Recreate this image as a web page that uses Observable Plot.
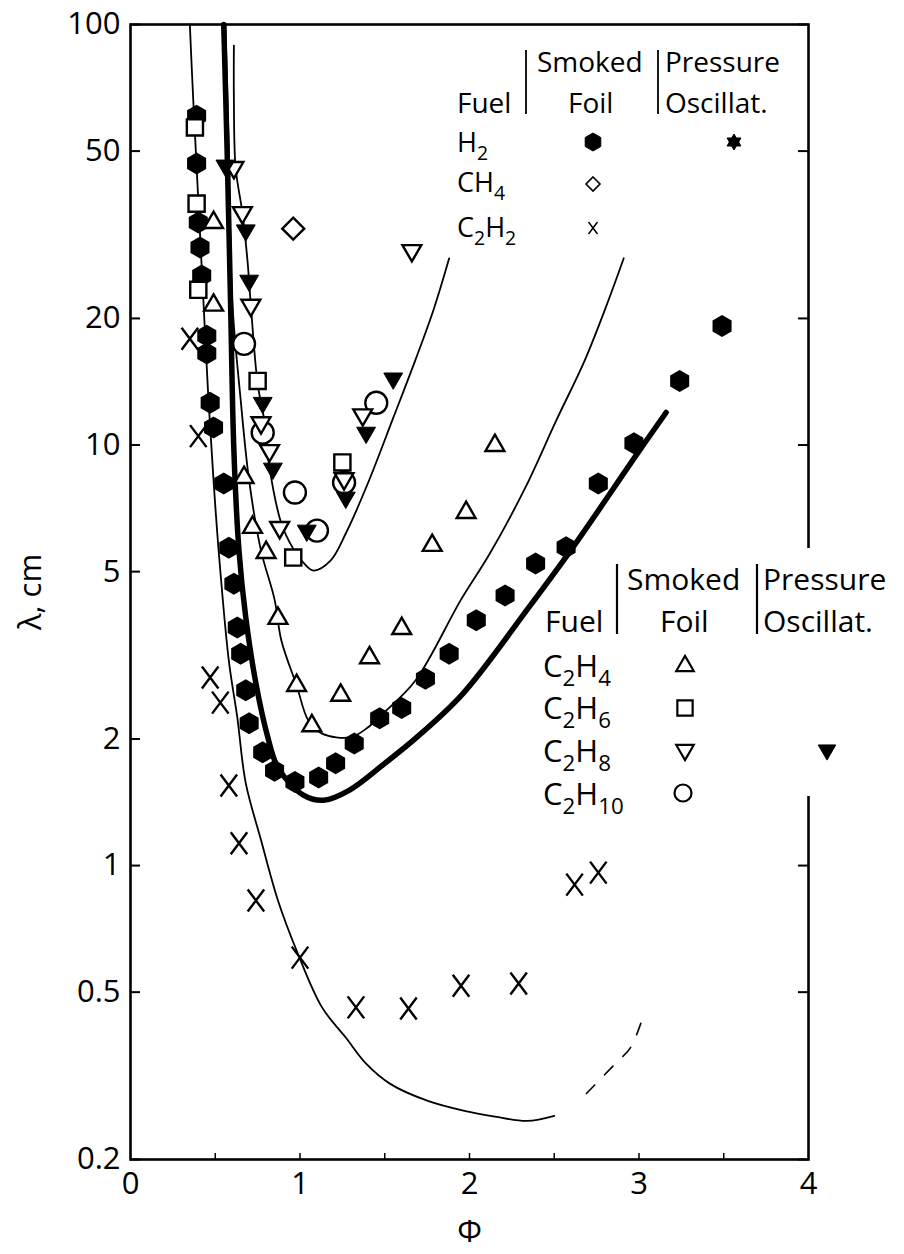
<!DOCTYPE html>
<html><head><meta charset="utf-8">
<script src="https://cdn.jsdelivr.net/npm/d3@7"></script>
<script src="https://cdn.jsdelivr.net/npm/@observablehq/plot@0.6"></script>
<style>
body{margin:0;background:#fff;}
#chart svg{display:block;}
</style></head><body><div id="chart"></div>
<script>
// ---------- data (Φ, λ in cm) ----------
const xTicks = [0, 1, 2, 3, 4];
const xMinorTicks = [0.5, 1, 1.5, 2, 2.5, 3, 3.5];
const yTicks = [100, 50, 20, 10, 5, 2, 1, 0.5, 0.2];

const h2Foil = [[0.39,60.7],[0.39,46.7],[0.40,33.8],[0.41,29.5],[0.42,25.3],[0.45,18.2],[0.45,16.5],[0.47,12.6],[0.49,11.0],[0.55,8.1],[0.58,5.7],[0.61,4.68],[0.63,3.68],[0.65,3.19],[0.68,2.61],[0.70,2.18],[0.78,1.86],[0.85,1.68],[0.97,1.58],[1.11,1.62],[1.21,1.75],[1.32,1.95],[1.47,2.24],[1.60,2.37],[1.74,2.78],[1.88,3.19],[2.04,3.83],[2.21,4.39],[2.39,5.23],[2.57,5.71],[2.76,8.10],[2.97,10.1],[3.24,14.2],[3.49,19.2]];
const ch4Foil = [[0.96,32.7]];
const c2h2Foil = [[0.35,17.9],[0.40,10.5],[0.47,2.80],[0.53,2.44],[0.58,1.55],[0.64,1.13],[0.74,0.826],[1.00,0.604],[1.33,0.460],[1.64,0.457],[1.95,0.518],[2.29,0.524],[2.62,0.901],[2.76,0.962]];
const c2h4Foil = [[0.49,33.8],[0.49,21.5],[0.67,8.37],[0.72,6.37],[0.80,5.55],[0.87,3.87],[0.98,2.68],[1.07,2.15],[1.24,2.54],[1.41,3.12],[1.60,3.66],[1.78,5.77],[1.98,6.91],[2.15,9.97]];
const c2h6Foil = [[0.38,56.9],[0.39,37.5],[0.40,23.4],[0.75,14.2],[1.25,9.09],[0.96,5.40]];
const c2h8Foil = [[0.61,45.7],[0.66,35.7],[0.71,21.5],[0.77,11.3],[0.82,9.70],[0.88,6.37],[1.26,8.32],[1.37,11.8],[1.66,29.0]];
const c2h8Pressure = [[0.56,46.2],[0.68,32.4],[0.70,24.6],[0.78,12.6],[0.84,8.79],[1.04,6.26],[1.27,7.50],[1.39,10.7],[1.55,14.4]];
const c2h10Foil = [[0.67,17.4],[0.78,10.7],[0.97,7.71],[1.10,6.26],[1.26,8.14],[1.45,12.6]];

const h2Fit = [[0.55,100],[0.57,50.2],[0.59,22.1],[0.61,9.70],[0.64,5.61],[0.68,3.89],[0.74,2.71],[0.81,2.02],[0.87,1.71],[1.02,1.47],[1.14,1.43],[1.29,1.51],[1.50,1.75],[1.69,2.02],[1.96,2.56],[2.35,4.11],[2.61,5.71],[2.99,9.54],[3.16,11.95]];
const c2h2Fit = [[0.35,100],[0.37,66.3],[0.40,38.2],[0.43,22.1],[0.46,12.8],[0.49,8.23],[0.52,5.61],[0.58,3.07],[0.63,2.25],[0.68,1.57],[0.77,1.15],[0.87,0.826],[0.98,0.628],[1.13,0.460],[1.27,0.390],[1.39,0.338],[1.53,0.303],[1.75,0.276],[1.97,0.261],[2.15,0.253],[2.34,0.247],[2.50,0.254]];
const c2h2FitExt = [[2.69,0.287],[2.86,0.338],[2.95,0.369],[3.03,0.445]];
const c2h4Fit = [[0.56,100],[0.58,50.2],[0.60,22.1],[0.65,12.8],[0.70,8.23],[0.77,5.61],[0.85,4.29],[0.89,3.43],[0.98,2.68],[1.05,2.21],[1.13,2.06],[1.30,2.02],[1.40,2.13],[1.49,2.30],[1.68,2.75],[1.95,4.29],[2.12,5.52],[2.33,7.93],[2.51,11.4],[2.68,15.9],[2.82,22.1],[2.91,27.8]];
const c2h8Fit = [[0.61,89.1],[0.61,66.3],[0.62,45.7],[0.66,35.7],[0.69,27.5],[0.71,21.5],[0.75,14.0],[0.79,11.4],[0.82,8.84],[0.89,6.51],[0.96,5.67],[1.02,5.25],[1.08,5.03],[1.18,5.31],[1.27,6.16],[1.40,8.10],[1.55,11.6],[1.68,15.9],[1.79,21.1],[1.88,27.8]];

const legendHeaders = ["Fuel", "Smoked", "Foil", "Pressure", "Oscillat."];
const topLegendFuels = ["H2", "CH4", "C2H2"];
const bottomLegendFuels = ["C2H4", "C2H6", "C2H8", "C2H10"];

// ---------- symbols ----------
const S3 = Math.sqrt(3);
const hexagon = {draw(c, s){const r=Math.sqrt(s/Math.PI), hx=r*S3/2, hy=r/2;
  c.moveTo(0,r);c.lineTo(hx,hy);c.lineTo(hx,-hy);c.lineTo(0,-r);c.lineTo(-hx,-hy);c.lineTo(-hx,hy);c.closePath();}};
const triUp = {draw(c, s){const y=-Math.sqrt(s/(S3*3)); c.moveTo(0,2*y);c.lineTo(-S3*y,-y);c.lineTo(S3*y,-y);c.closePath();}};
const triDown = {draw(c, s){const y=-Math.sqrt(s/(S3*3)); c.moveTo(0,-2*y);c.lineTo(-S3*y,y);c.lineTo(S3*y,y);c.closePath();}};
const letterX = {draw(c, s){const r=Math.sqrt(s/Math.PI); c.moveTo(-0.75*r,-r);c.lineTo(0.75*r,r);c.moveTo(0.75*r,-r);c.lineTo(-0.75*r,r);}};
const diamond = {draw(c, s){const r=Math.sqrt(s/Math.PI); c.moveTo(0,-r);c.lineTo(r,0);c.lineTo(0,r);c.lineTo(-r,0);c.closePath();}};
const square = {draw(c, s){const r=Math.sqrt(s/Math.PI)*0.85; c.rect(-r,-r,2*r,2*r);}};
const circle = {draw(c, s){const r=Math.sqrt(s/Math.PI); c.moveTo(r,0); c.arc(0,0,r,0,2*Math.PI);}};
const star6 = {draw(c, s){const r=Math.sqrt(s/Math.PI);
  for (const a0 of [-Math.PI/2, Math.PI/2]) { for (let i=0;i<3;i++){const a=a0+i*2*Math.PI/3, x=r*Math.cos(a), y=r*Math.sin(a); i?c.lineTo(x,y):c.moveTo(x,y);} c.closePath(); }}};

// ---------- layout ----------
const W = 904, H = 1254;
const mL = 130, mR = 96, mT = 24, mB = 95;
const plotW = W - mL - mR, plotH = H - mT - mB;
const FONT = "'Open Sans', 'Noto Sans', sans-serif";
const X = d => d[0], Y = d => d[1];
const openDot = (data, symbol, r) => Plot.dot(data, {x: X, y: Y, symbol, r, fill: "#fff", stroke: "#000", strokeWidth: 2.4});

const chart = Plot.plot({
  width: W, height: H,
  marginLeft: mL, marginRight: mR, marginTop: mT, marginBottom: mB,
  style: {fontFamily: FONT, background: "#fff", color: "#000"},
  x: {domain: [0, 4]},
  y: {type: "log", domain: [0.2, 100]},
  marks: [
    Plot.axisY(yTicks, {anchor: "left", tickSize: 0, tickPadding: 10, fontSize: 31, tickFormat: d => String(d),
      label: "λ, cm", labelAnchor: "center", labelOffset: 112, labelArrow: "none"}),
    Plot.axisX(xTicks, {anchor: "bottom", tickSize: 0, tickPadding: 12, fontSize: 31, tickFormat: d => String(d),
      label: "Φ", labelAnchor: "center", labelOffset: 82, labelArrow: "none"}),
    Plot.tickY(yTicks, {y: d => d, stroke: "#000", strokeWidth: 2, insetRight: plotW - 10}),
    Plot.tickY(yTicks, {y: d => d, stroke: "#000", strokeWidth: 2, insetLeft: plotW - 10}),
    Plot.tickX(xMinorTicks, {x: d => d, stroke: "#000", strokeWidth: 1.5, insetTop: plotH - 6}),
    Plot.frame({stroke: "#000", strokeWidth: 2.6}),
    Plot.line(c2h2Fit, {x: X, y: Y, curve: "catmull-rom", stroke: "#000", strokeWidth: 1.8}),
    Plot.line(c2h2FitExt, {x: X, y: Y, curve: "catmull-rom", stroke: "#000", strokeWidth: 1.6, strokeDasharray: "12,14"}),
    Plot.line(c2h4Fit, {x: X, y: Y, curve: "catmull-rom", stroke: "#000", strokeWidth: 1.8}),
    Plot.line(c2h8Fit, {x: X, y: Y, curve: "catmull-rom", stroke: "#000", strokeWidth: 1.8}),
    Plot.line(h2Fit, {x: X, y: Y, curve: "catmull-rom", stroke: "#000", strokeWidth: 5.5}),
    Plot.dot(h2Foil, {x: X, y: Y, symbol: hexagon, r: 11, fill: "#000", stroke: "none"}),
    Plot.dot(c2h2Foil, {x: X, y: Y, symbol: letterX, r: 11, fill: "none", stroke: "#000", strokeWidth: 2.4}),
    openDot(c2h10Foil, circle, 11),
    openDot(c2h6Foil, square, 9.5),
    openDot(c2h4Foil, triUp, 7),
    openDot(c2h8Foil, triDown, 7),
    Plot.dot(c2h8Pressure, {x: X, y: Y, symbol: triDown, r: 7, fill: "#000", stroke: "#000", strokeWidth: 1}),
    openDot(ch4Foil, diamond, 11)
  ]
});
document.getElementById("chart").appendChild(chart);

// ---------- in-plot legends ----------
const svg = d3.select(chart);
const g = svg.append("g").attr("font-family", FONT).attr("fill", "#000").attr("text-anchor", "start");

function chem(x, y, label, fs) {
  const t = g.append("text").attr("x", x).attr("y", y).attr("font-size", fs).attr("text-anchor", "start");
  let sub = false;
  for (const p of label.match(/[A-Za-z]+|\d+/g)) {
    const isNum = /\d/.test(p);
    const ts = t.append("tspan").text(p);
    if (isNum) { ts.attr("font-size", fs * 0.72); if (!sub) { ts.attr("dy", fs * 0.28); sub = true; } }
    else if (sub) { ts.attr("dy", -fs * 0.28); sub = false; }
  }
}
function label(x, y, txt, fs, anchor = "start") {
  g.append("text").attr("x", x).attr("y", y).attr("font-size", fs).attr("text-anchor", anchor).text(txt);
}
function vline(x, y1, y2, w = 2) {
  g.append("line").attr("x1", x).attr("x2", x).attr("y1", y1).attr("y2", y2).attr("stroke", "#000").attr("stroke-width", w);
}
function marker(x, y, symbol, r, filled, sw = 2.4) {
  g.append("path").attr("transform", `translate(${x},${y})`)
    .attr("d", d3.symbol(symbol, Math.PI * r * r)())
    .attr("fill", filled ? "#000" : "#fff").attr("stroke", "#000").attr("stroke-width", filled ? 1 : sw);
}

// top legend
label(537, 72, legendHeaders[1], 28);
label(665, 72, legendHeaders[3], 28);
label(457, 113, legendHeaders[0], 28);
label(568, 113, legendHeaders[2], 28);
label(665, 113, legendHeaders[4], 28);
vline(526, 50, 114, 1.8);
vline(658, 50, 114, 1.8);
[152, 192, 237].forEach((yy, i) => chem(457, yy, topLegendFuels[i], 27));
marker(593, 142, hexagon, 9, true);
marker(734, 142, star6, 8, true);
marker(593, 184, diamond, 7, false, 1.6);
marker(593, 228, letterX, 6, false, 1.5);

// bottom legend: break the right frame behind it
svg.insert("rect", "g:last-of-type").attr("x", mL + plotW - 10).attr("y", 548).attr("width", 22).attr("height", 248).attr("fill", "#fff");
label(627, 590, legendHeaders[1], 30);
label(763, 590, legendHeaders[3], 30);
label(545, 632, legendHeaders[0], 30);
label(660, 632, legendHeaders[2], 30);
label(763, 632, legendHeaders[4], 30);
vline(617, 564, 634, 2.2);
vline(757, 564, 634, 2.2);
[677, 719, 762, 805].forEach((yy, i) => chem(543, yy, bottomLegendFuels[i], 31));
marker(685, 666, triUp, 6.5, false, 2.2);
marker(685, 708, square, 9, false, 2.2);
marker(685, 750, triDown, 6.5, false, 2.2);
marker(827, 750, triDown, 6.5, true);
marker(683, 793, circle, 8.5, false, 2.2);
</script>
</body></html>
